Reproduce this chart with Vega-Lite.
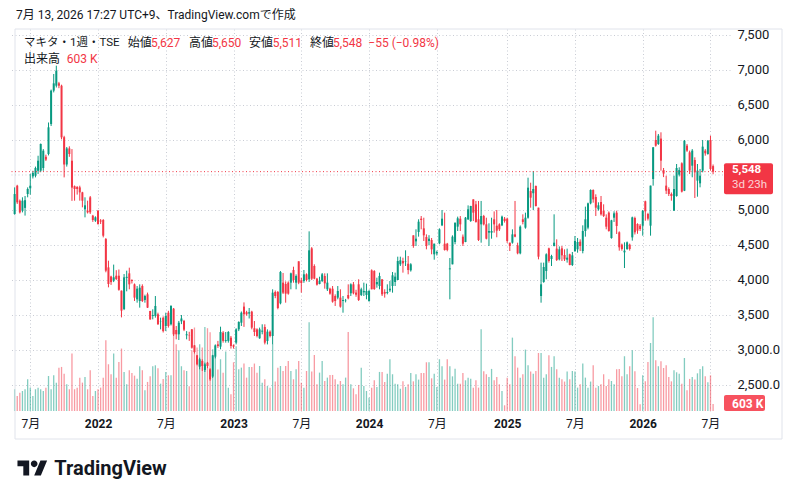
{
  "$schema": "https://vega.github.io/schema/vega-lite/v6.json",
  "description": "Makita weekly candles, TSE",
  "width": 720,
  "height": 382,
  "autosize": {"type": "none"},
  "padding": {"left": 10, "top": 29, "right": 68, "bottom": 88},
  "background": "#ffffff",
  "config": {
    "view": {"stroke": null},
    "font": "Roboto, 'Noto Sans CJK JP', sans-serif",
    "axis": {"labelOverlap": false, "labelBound": false},
    "axisY": {"labelOverlap": false},
    "axisRight": {"labelOverlap": false}
  },
  "datasets": {
    "last": [{"c": 5548, "v": 603, "ct": "5,548", "rem": "3d 23h", "vt": "603 K"}],
    "grid": [{"p": 5500}],
    "w": [
      {"d":"2021-05-24","o":4943,"h":5323,"l":4933,"c":5228,"v":1870},
      {"d":"2021-05-31","o":5347,"h":5360,"l":5086,"c":5109,"v":1290},
      {"d":"2021-06-07","o":5133,"h":5150,"l":4950,"c":4966,"v":1580},
      {"d":"2021-06-14","o":4990,"h":5181,"l":4966,"c":5133,"v":1720},
      {"d":"2021-06-21","o":5030,"h":5200,"l":4920,"c":5140,"v":1870},
      {"d":"2021-06-28","o":5228,"h":5323,"l":5181,"c":5300,"v":2730},
      {"d":"2021-07-05","o":5310,"h":5514,"l":5220,"c":5347,"v":2010},
      {"d":"2021-07-12","o":5480,"h":5560,"l":5450,"c":5530,"v":1290},
      {"d":"2021-07-19","o":5490,"h":5620,"l":5466,"c":5600,"v":1870},
      {"d":"2021-07-26","o":5560,"h":5775,"l":5514,"c":5704,"v":2010},
      {"d":"2021-08-02","o":5562,"h":5950,"l":5540,"c":5943,"v":1870},
      {"d":"2021-08-09","o":5600,"h":5870,"l":5560,"c":5847,"v":1720},
      {"d":"2021-08-16","o":5760,"h":5790,"l":5700,"c":5720,"v":2010},
      {"d":"2021-08-23","o":5800,"h":6250,"l":5780,"c":6181,"v":3010},
      {"d":"2021-08-30","o":6228,"h":6720,"l":6200,"c":6705,"v":1870},
      {"d":"2021-09-06","o":6705,"h":6943,"l":6680,"c":6809,"v":3070},
      {"d":"2021-09-13","o":6776,"h":7062,"l":6750,"c":6990,"v":2440},
      {"d":"2021-09-20","o":6810,"h":6830,"l":6740,"c":6776,"v":3730},
      {"d":"2021-09-27","o":6776,"h":6790,"l":6010,"c":6038,"v":3790},
      {"d":"2021-10-04","o":6040,"h":6060,"l":5466,"c":5650,"v":3210},
      {"d":"2021-10-11","o":5650,"h":5900,"l":5620,"c":5880,"v":2300},
      {"d":"2021-10-18","o":5880,"h":5910,"l":5760,"c":5800,"v":1870},
      {"d":"2021-10-25","o":5704,"h":5870,"l":5130,"c":5320,"v":4940},
      {"d":"2021-11-01","o":5340,"h":5350,"l":5133,"c":5300,"v":1870},
      {"d":"2021-11-08","o":5330,"h":5340,"l":5220,"c":5300,"v":2010},
      {"d":"2021-11-15","o":5323,"h":5347,"l":5133,"c":5252,"v":2870},
      {"d":"2021-11-22","o":5252,"h":5260,"l":5038,"c":5133,"v":2440},
      {"d":"2021-11-29","o":5010,"h":5181,"l":4895,"c":5067,"v":2930},
      {"d":"2021-12-06","o":4990,"h":5133,"l":4950,"c":4966,"v":1870},
      {"d":"2021-12-13","o":5181,"h":5200,"l":4943,"c":4966,"v":3500},
      {"d":"2021-12-20","o":4919,"h":4930,"l":4830,"c":4857,"v":1290},
      {"d":"2021-12-27","o":4847,"h":4910,"l":4830,"c":4895,"v":1720},
      {"d":"2022-01-03","o":4990,"h":5000,"l":4790,"c":4800,"v":1870},
      {"d":"2022-01-10","o":4850,"h":4870,"l":4800,"c":4835,"v":2010},
      {"d":"2022-01-17","o":4857,"h":4870,"l":4609,"c":4633,"v":2870},
      {"d":"2022-01-24","o":4585,"h":4600,"l":4110,"c":4133,"v":6080},
      {"d":"2022-01-31","o":4180,"h":4276,"l":3895,"c":3943,"v":4020},
      {"d":"2022-02-07","o":4050,"h":4061,"l":3930,"c":3970,"v":3160},
      {"d":"2022-02-14","o":3990,"h":4220,"l":3970,"c":4038,"v":4940},
      {"d":"2022-02-21","o":4061,"h":4140,"l":4000,"c":4014,"v":2870},
      {"d":"2022-02-28","o":4061,"h":4150,"l":3847,"c":3860,"v":4220},
      {"d":"2022-03-07","o":3847,"h":3850,"l":3466,"c":3562,"v":5370},
      {"d":"2022-03-14","o":3585,"h":4085,"l":3570,"c":4038,"v":3360},
      {"d":"2022-03-21","o":4030,"h":4133,"l":3838,"c":4045,"v":2300},
      {"d":"2022-03-28","o":4095,"h":4176,"l":3867,"c":3938,"v":3500},
      {"d":"2022-04-04","o":4000,"h":4010,"l":3950,"c":3985,"v":3270},
      {"d":"2022-04-11","o":3938,"h":3950,"l":3700,"c":3748,"v":3040},
      {"d":"2022-04-18","o":3724,"h":3914,"l":3676,"c":3876,"v":2780},
      {"d":"2022-04-25","o":3700,"h":3938,"l":3605,"c":3890,"v":3850},
      {"d":"2022-05-02","o":3914,"h":3938,"l":3685,"c":3700,"v":3500},
      {"d":"2022-05-09","o":3715,"h":3790,"l":3676,"c":3771,"v":1780},
      {"d":"2022-05-16","o":3795,"h":3820,"l":3600,"c":3605,"v":2500},
      {"d":"2022-05-23","o":3557,"h":3560,"l":3430,"c":3438,"v":2980},
      {"d":"2022-05-30","o":3486,"h":3581,"l":3438,"c":3500,"v":3850},
      {"d":"2022-06-06","o":3486,"h":3771,"l":3462,"c":3629,"v":3930},
      {"d":"2022-06-13","o":3510,"h":3533,"l":3360,"c":3367,"v":3670},
      {"d":"2022-06-20","o":3410,"h":3462,"l":3295,"c":3415,"v":2350},
      {"d":"2022-06-27","o":3460,"h":3480,"l":3250,"c":3270,"v":2760},
      {"d":"2022-07-04","o":3343,"h":3533,"l":3270,"c":3486,"v":3360},
      {"d":"2022-07-11","o":3533,"h":3560,"l":3320,"c":3343,"v":3070},
      {"d":"2022-07-18","o":3367,"h":3640,"l":3350,"c":3629,"v":3070},
      {"d":"2022-07-25","o":3590,"h":3600,"l":3200,"c":3224,"v":7230},
      {"d":"2022-08-01","o":3286,"h":3343,"l":3152,"c":3224,"v":5740},
      {"d":"2022-08-08","o":3224,"h":3415,"l":3143,"c":3390,"v":5220},
      {"d":"2022-08-15","o":3410,"h":3500,"l":3370,"c":3450,"v":3850},
      {"d":"2022-08-22","o":3415,"h":3430,"l":3270,"c":3290,"v":3500},
      {"d":"2022-08-29","o":3210,"h":3270,"l":3152,"c":3225,"v":3440},
      {"d":"2022-09-05","o":3215,"h":3260,"l":3130,"c":3210,"v":2120},
      {"d":"2022-09-12","o":3295,"h":3300,"l":3020,"c":3033,"v":5220},
      {"d":"2022-09-19","o":3066,"h":3070,"l":2950,"c":2971,"v":7180},
      {"d":"2022-09-26","o":2924,"h":2930,"l":2780,"c":2795,"v":5450},
      {"d":"2022-10-03","o":2762,"h":2890,"l":2724,"c":2867,"v":5740},
      {"d":"2022-10-10","o":2843,"h":2867,"l":2700,"c":2771,"v":5450},
      {"d":"2022-10-17","o":2714,"h":2819,"l":2686,"c":2795,"v":7230},
      {"d":"2022-10-24","o":2819,"h":2830,"l":2740,"c":2771,"v":7120},
      {"d":"2022-10-31","o":2724,"h":2740,"l":2560,"c":2581,"v":6770},
      {"d":"2022-11-07","o":2620,"h":2930,"l":2600,"c":2924,"v":5310},
      {"d":"2022-11-14","o":2905,"h":3080,"l":2880,"c":3066,"v":4710},
      {"d":"2022-11-21","o":3080,"h":3130,"l":3030,"c":3057,"v":3560},
      {"d":"2022-11-28","o":3048,"h":3333,"l":3010,"c":3257,"v":4450},
      {"d":"2022-12-05","o":3248,"h":3270,"l":3105,"c":3130,"v":3300},
      {"d":"2022-12-12","o":3130,"h":3257,"l":3105,"c":3143,"v":5110},
      {"d":"2022-12-19","o":3130,"h":3270,"l":3105,"c":3257,"v":2010},
      {"d":"2022-12-26","o":3176,"h":3200,"l":3020,"c":3057,"v":1440},
      {"d":"2023-01-02","o":3067,"h":3080,"l":3020,"c":3048,"v":4190},
      {"d":"2023-01-09","o":3105,"h":3310,"l":3080,"c":3295,"v":5570},
      {"d":"2023-01-16","o":3295,"h":3410,"l":3270,"c":3400,"v":3590},
      {"d":"2023-01-23","o":3390,"h":3550,"l":3343,"c":3533,"v":3730},
      {"d":"2023-01-30","o":3620,"h":3680,"l":3330,"c":3510,"v":4080},
      {"d":"2023-02-06","o":3540,"h":3560,"l":3490,"c":3510,"v":2870},
      {"d":"2023-02-13","o":3520,"h":3600,"l":3450,"c":3540,"v":3790},
      {"d":"2023-02-20","o":3548,"h":3560,"l":3295,"c":3319,"v":3790},
      {"d":"2023-02-27","o":3310,"h":3414,"l":3200,"c":3257,"v":4080},
      {"d":"2023-03-06","o":3295,"h":3310,"l":3180,"c":3200,"v":3300},
      {"d":"2023-03-13","o":3167,"h":3320,"l":3160,"c":3295,"v":3870},
      {"d":"2023-03-20","o":3262,"h":3367,"l":3224,"c":3276,"v":2440},
      {"d":"2023-03-27","o":3329,"h":3367,"l":3080,"c":3105,"v":2730},
      {"d":"2023-04-03","o":3129,"h":3295,"l":3080,"c":3262,"v":2150},
      {"d":"2023-04-10","o":3262,"h":3280,"l":3180,"c":3200,"v":2010},
      {"d":"2023-04-17","o":3200,"h":3867,"l":3080,"c":3819,"v":5740},
      {"d":"2023-04-24","o":3829,"h":3850,"l":3740,"c":3771,"v":2530},
      {"d":"2023-05-01","o":3829,"h":3843,"l":3581,"c":3600,"v":3730},
      {"d":"2023-05-08","o":3667,"h":4128,"l":3652,"c":4114,"v":3870},
      {"d":"2023-05-15","o":3962,"h":4100,"l":3800,"c":3819,"v":3440},
      {"d":"2023-05-22","o":3943,"h":3980,"l":3676,"c":3805,"v":3870},
      {"d":"2023-05-29","o":3962,"h":3980,"l":3790,"c":3805,"v":4310},
      {"d":"2023-06-05","o":3962,"h":4105,"l":3867,"c":4095,"v":3440},
      {"d":"2023-06-12","o":4143,"h":4190,"l":3962,"c":4000,"v":2730},
      {"d":"2023-06-19","o":3962,"h":4080,"l":3867,"c":4057,"v":3590},
      {"d":"2023-06-26","o":4267,"h":4267,"l":3940,"c":3962,"v":4310},
      {"d":"2023-07-03","o":3995,"h":4033,"l":3820,"c":3957,"v":2440},
      {"d":"2023-07-10","o":3986,"h":4143,"l":3960,"c":4081,"v":2010},
      {"d":"2023-07-17","o":4081,"h":4095,"l":3980,"c":4000,"v":3440},
      {"d":"2023-07-24","o":4010,"h":4695,"l":3972,"c":4424,"v":7630},
      {"d":"2023-07-31","o":4452,"h":4470,"l":4000,"c":4019,"v":3390},
      {"d":"2023-08-07","o":4200,"h":4224,"l":4010,"c":4019,"v":4820},
      {"d":"2023-08-14","o":4019,"h":4030,"l":3920,"c":3933,"v":2300},
      {"d":"2023-08-21","o":3943,"h":4047,"l":3938,"c":3990,"v":3300},
      {"d":"2023-08-28","o":3986,"h":4100,"l":3970,"c":4081,"v":4310},
      {"d":"2023-09-04","o":4057,"h":4095,"l":3876,"c":3952,"v":2580},
      {"d":"2023-09-11","o":3867,"h":4095,"l":3843,"c":3962,"v":2870},
      {"d":"2023-09-18","o":3876,"h":3890,"l":3790,"c":3805,"v":3100},
      {"d":"2023-09-25","o":3876,"h":3914,"l":3676,"c":3690,"v":3100},
      {"d":"2023-10-02","o":3771,"h":3795,"l":3629,"c":3700,"v":2730},
      {"d":"2023-10-09","o":3748,"h":3914,"l":3724,"c":3843,"v":2300},
      {"d":"2023-10-16","o":3748,"h":3867,"l":3605,"c":3619,"v":2580},
      {"d":"2023-10-23","o":3700,"h":3771,"l":3533,"c":3714,"v":2300},
      {"d":"2023-10-30","o":3700,"h":3730,"l":3680,"c":3705,"v":2870},
      {"d":"2023-11-06","o":3786,"h":3938,"l":3724,"c":3738,"v":6800},
      {"d":"2023-11-13","o":3810,"h":3952,"l":3771,"c":3938,"v":2300},
      {"d":"2023-11-20","o":3938,"h":3971,"l":3795,"c":3810,"v":1950},
      {"d":"2023-11-27","o":3820,"h":3860,"l":3760,"c":3790,"v":1440},
      {"d":"2023-12-04","o":3938,"h":4010,"l":3700,"c":3714,"v":2240},
      {"d":"2023-12-11","o":3786,"h":3890,"l":3771,"c":3867,"v":3730},
      {"d":"2023-12-18","o":3824,"h":3962,"l":3771,"c":3843,"v":2150},
      {"d":"2023-12-25","o":3786,"h":3948,"l":3724,"c":3843,"v":1720},
      {"d":"2024-01-01","o":3700,"h":3860,"l":3690,"c":3843,"v":1150},
      {"d":"2024-01-08","o":4138,"h":4152,"l":3867,"c":3867,"v":2010},
      {"d":"2024-01-15","o":4128,"h":4140,"l":3860,"c":3870,"v":2640},
      {"d":"2024-01-22","o":3938,"h":4033,"l":3890,"c":3971,"v":2070},
      {"d":"2024-01-29","o":3914,"h":4105,"l":3867,"c":4057,"v":3360},
      {"d":"2024-02-05","o":4010,"h":4010,"l":3771,"c":3795,"v":3360},
      {"d":"2024-02-12","o":3829,"h":3867,"l":3748,"c":3805,"v":2500},
      {"d":"2024-02-19","o":3815,"h":3938,"l":3795,"c":3829,"v":3210},
      {"d":"2024-02-26","o":3852,"h":3985,"l":3829,"c":3876,"v":4450},
      {"d":"2024-03-04","o":3914,"h":4114,"l":3819,"c":4067,"v":3160},
      {"d":"2024-03-11","o":3971,"h":4105,"l":3914,"c":4048,"v":2350},
      {"d":"2024-03-18","o":4000,"h":4333,"l":4000,"c":4271,"v":2300},
      {"d":"2024-03-25","o":4224,"h":4333,"l":4200,"c":4281,"v":1920},
      {"d":"2024-04-01","o":4271,"h":4319,"l":4105,"c":4238,"v":2550},
      {"d":"2024-04-08","o":4265,"h":4424,"l":4200,"c":4271,"v":2070},
      {"d":"2024-04-15","o":4233,"h":4343,"l":4081,"c":4143,"v":2300},
      {"d":"2024-04-22","o":4138,"h":4240,"l":4120,"c":4224,"v":3270},
      {"d":"2024-04-29","o":4638,"h":4638,"l":4460,"c":4486,"v":2550},
      {"d":"2024-05-06","o":4552,"h":4724,"l":4486,"c":4590,"v":3160},
      {"d":"2024-05-13","o":4686,"h":4867,"l":4619,"c":4833,"v":2700},
      {"d":"2024-05-20","o":4876,"h":4914,"l":4724,"c":4857,"v":3270},
      {"d":"2024-05-27","o":4738,"h":4890,"l":4557,"c":4638,"v":3270},
      {"d":"2024-06-03","o":4614,"h":4652,"l":4438,"c":4486,"v":4190},
      {"d":"2024-06-10","o":4557,"h":4640,"l":4500,"c":4590,"v":4190},
      {"d":"2024-06-17","o":4571,"h":4600,"l":4367,"c":4438,"v":2810},
      {"d":"2024-06-24","o":4367,"h":4519,"l":4290,"c":4519,"v":3210},
      {"d":"2024-07-01","o":4381,"h":4420,"l":4350,"c":4400,"v":2070},
      {"d":"2024-07-08","o":4524,"h":4738,"l":4510,"c":4724,"v":4450},
      {"d":"2024-07-15","o":4781,"h":5000,"l":4770,"c":4876,"v":3850},
      {"d":"2024-07-22","o":4519,"h":4962,"l":4420,"c":4429,"v":2700},
      {"d":"2024-07-29","o":4519,"h":4530,"l":4410,"c":4429,"v":4450},
      {"d":"2024-08-05","o":4152,"h":4314,"l":3724,"c":4167,"v":3850},
      {"d":"2024-08-12","o":4224,"h":4638,"l":4224,"c":4619,"v":2980},
      {"d":"2024-08-19","o":4543,"h":4819,"l":4510,"c":4819,"v":3640},
      {"d":"2024-08-26","o":4762,"h":4905,"l":4700,"c":4881,"v":2350},
      {"d":"2024-09-02","o":4876,"h":4914,"l":4700,"c":4795,"v":2350},
      {"d":"2024-09-09","o":4619,"h":4650,"l":4486,"c":4519,"v":3270},
      {"d":"2024-09-16","o":4543,"h":4900,"l":4540,"c":4890,"v":2640},
      {"d":"2024-09-23","o":4867,"h":5066,"l":4857,"c":5010,"v":2870},
      {"d":"2024-09-30","o":4843,"h":5060,"l":4830,"c":5057,"v":2780},
      {"d":"2024-10-07","o":5152,"h":5152,"l":4843,"c":4962,"v":2010},
      {"d":"2024-10-14","o":5081,"h":5129,"l":4819,"c":4829,"v":2640},
      {"d":"2024-10-21","o":4867,"h":5129,"l":4557,"c":4571,"v":2010},
      {"d":"2024-10-28","o":4795,"h":5129,"l":4533,"c":4914,"v":7030},
      {"d":"2024-11-04","o":4914,"h":4930,"l":4780,"c":4795,"v":3420},
      {"d":"2024-11-11","o":4795,"h":4890,"l":4580,"c":4590,"v":3160},
      {"d":"2024-11-18","o":4676,"h":4810,"l":4486,"c":4700,"v":2930},
      {"d":"2024-11-25","o":4676,"h":4890,"l":4590,"c":4700,"v":3620},
      {"d":"2024-12-02","o":4867,"h":4980,"l":4676,"c":4795,"v":2640},
      {"d":"2024-12-09","o":4776,"h":5000,"l":4610,"c":4705,"v":2930},
      {"d":"2024-12-16","o":4795,"h":4810,"l":4700,"c":4724,"v":2300},
      {"d":"2024-12-23","o":4781,"h":4920,"l":4770,"c":4905,"v":1720},
      {"d":"2024-12-30","o":4876,"h":4900,"l":4820,"c":4843,"v":490},
      {"d":"2025-01-06","o":4876,"h":4890,"l":4530,"c":4557,"v":2870},
      {"d":"2025-01-13","o":4533,"h":4533,"l":4414,"c":4486,"v":2300},
      {"d":"2025-01-20","o":4533,"h":4724,"l":4519,"c":4652,"v":6310},
      {"d":"2025-01-27","o":4652,"h":5129,"l":4610,"c":4619,"v":4710},
      {"d":"2025-02-03","o":4495,"h":4533,"l":4367,"c":4381,"v":3730},
      {"d":"2025-02-10","o":4381,"h":4780,"l":4367,"c":4762,"v":2870},
      {"d":"2025-02-17","o":4867,"h":4938,"l":4795,"c":4829,"v":3160},
      {"d":"2025-02-24","o":4748,"h":4962,"l":4733,"c":4890,"v":5280},
      {"d":"2025-03-03","o":4890,"h":5462,"l":4876,"c":5319,"v":3930},
      {"d":"2025-03-10","o":5271,"h":5390,"l":5033,"c":5176,"v":3390},
      {"d":"2025-03-17","o":5240,"h":5557,"l":5000,"c":5300,"v":3210},
      {"d":"2025-03-24","o":5343,"h":5350,"l":5050,"c":5057,"v":3440},
      {"d":"2025-03-31","o":5033,"h":5033,"l":4295,"c":4333,"v":4990},
      {"d":"2025-04-07","o":3771,"h":4248,"l":3676,"c":3938,"v":4990},
      {"d":"2025-04-14","o":3971,"h":4248,"l":3960,"c":4186,"v":2870},
      {"d":"2025-04-21","o":4128,"h":4381,"l":4010,"c":4367,"v":3160},
      {"d":"2025-04-28","o":4452,"h":4462,"l":4248,"c":4271,"v":4790},
      {"d":"2025-05-05","o":4300,"h":4360,"l":4200,"c":4343,"v":3790},
      {"d":"2025-05-12","o":4486,"h":4938,"l":4480,"c":4533,"v":4710},
      {"d":"2025-05-19","o":4448,"h":4581,"l":4271,"c":4286,"v":3590},
      {"d":"2025-05-26","o":4295,"h":4480,"l":4280,"c":4438,"v":2870},
      {"d":"2025-06-02","o":4452,"h":4486,"l":4271,"c":4352,"v":2730},
      {"d":"2025-06-09","o":4357,"h":4438,"l":4271,"c":4295,"v":2530},
      {"d":"2025-06-16","o":4290,"h":4448,"l":4248,"c":4319,"v":3390},
      {"d":"2025-06-23","o":4367,"h":4376,"l":4210,"c":4214,"v":2730},
      {"d":"2025-06-30","o":4214,"h":4400,"l":4200,"c":4352,"v":3440},
      {"d":"2025-07-07","o":4414,"h":4629,"l":4400,"c":4557,"v":3390},
      {"d":"2025-07-14","o":4438,"h":4600,"l":4390,"c":4543,"v":2010},
      {"d":"2025-07-21","o":4548,"h":4581,"l":4414,"c":4486,"v":2300},
      {"d":"2025-07-28","o":4414,"h":4781,"l":4381,"c":4700,"v":4080},
      {"d":"2025-08-04","o":4700,"h":5048,"l":4619,"c":4867,"v":2870},
      {"d":"2025-08-11","o":4748,"h":5105,"l":4724,"c":5095,"v":2010},
      {"d":"2025-08-18","o":5095,"h":5295,"l":5081,"c":5286,"v":2530},
      {"d":"2025-08-25","o":5286,"h":5295,"l":5105,"c":5152,"v":3930},
      {"d":"2025-09-01","o":5186,"h":5224,"l":4914,"c":5033,"v":2010},
      {"d":"2025-09-08","o":5010,"h":5110,"l":4990,"c":5067,"v":2150},
      {"d":"2025-09-15","o":5114,"h":5200,"l":4920,"c":4938,"v":2300},
      {"d":"2025-09-22","o":4990,"h":5081,"l":4900,"c":4914,"v":3160},
      {"d":"2025-09-29","o":4890,"h":4938,"l":4724,"c":4762,"v":2150},
      {"d":"2025-10-06","o":4962,"h":4980,"l":4690,"c":4700,"v":2730},
      {"d":"2025-10-13","o":4600,"h":4860,"l":4590,"c":4852,"v":2580},
      {"d":"2025-10-20","o":4890,"h":4981,"l":4829,"c":4952,"v":2300},
      {"d":"2025-10-27","o":4962,"h":4990,"l":4657,"c":4771,"v":3590},
      {"d":"2025-11-03","o":4681,"h":4695,"l":4419,"c":4467,"v":3620},
      {"d":"2025-11-10","o":4505,"h":4520,"l":4419,"c":4443,"v":2980},
      {"d":"2025-11-17","o":4395,"h":4538,"l":4171,"c":4419,"v":4710},
      {"d":"2025-11-24","o":4443,"h":4550,"l":4430,"c":4538,"v":3160},
      {"d":"2025-12-01","o":4505,"h":4520,"l":4420,"c":4443,"v":3850},
      {"d":"2025-12-08","o":4609,"h":4905,"l":4562,"c":4895,"v":5220},
      {"d":"2025-12-15","o":4886,"h":4905,"l":4650,"c":4681,"v":3420},
      {"d":"2025-12-22","o":4800,"h":4810,"l":4660,"c":4705,"v":1980},
      {"d":"2025-12-29","o":4776,"h":4800,"l":4700,"c":4728,"v":570},
      {"d":"2026-01-05","o":4776,"h":5000,"l":4633,"c":4990,"v":3070},
      {"d":"2026-01-12","o":5124,"h":5133,"l":4847,"c":4981,"v":2550},
      {"d":"2026-01-19","o":4943,"h":4960,"l":4850,"c":4876,"v":4220},
      {"d":"2026-01-26","o":4776,"h":5348,"l":4633,"c":5348,"v":5850},
      {"d":"2026-02-02","o":5443,"h":5900,"l":5348,"c":5895,"v":8060},
      {"d":"2026-02-09","o":6000,"h":6133,"l":5905,"c":5919,"v":4360},
      {"d":"2026-02-16","o":5943,"h":6086,"l":5930,"c":6062,"v":3850},
      {"d":"2026-02-23","o":6020,"h":6110,"l":5562,"c":5705,"v":4280},
      {"d":"2026-03-02","o":5570,"h":5600,"l":5470,"c":5520,"v":3700},
      {"d":"2026-03-09","o":5348,"h":5490,"l":5229,"c":5276,"v":3930},
      {"d":"2026-03-16","o":5300,"h":5324,"l":5200,"c":5229,"v":2930},
      {"d":"2026-03-23","o":5229,"h":5250,"l":5133,"c":5200,"v":2550},
      {"d":"2026-03-30","o":4990,"h":5490,"l":4990,"c":5300,"v":3500},
      {"d":"2026-04-06","o":5200,"h":5657,"l":5190,"c":5600,"v":3330},
      {"d":"2026-04-13","o":5505,"h":5610,"l":5480,"c":5570,"v":3210},
      {"d":"2026-04-20","o":5667,"h":5681,"l":5250,"c":5262,"v":2350},
      {"d":"2026-04-27","o":5276,"h":6000,"l":5270,"c":5990,"v":4560},
      {"d":"2026-05-04","o":5919,"h":5943,"l":5830,"c":5848,"v":1780},
      {"d":"2026-05-11","o":5824,"h":5848,"l":5514,"c":5562,"v":2760},
      {"d":"2026-05-18","o":5633,"h":5870,"l":5467,"c":5848,"v":2930},
      {"d":"2026-05-25","o":5714,"h":5752,"l":5171,"c":5538,"v":2700},
      {"d":"2026-06-01","o":5419,"h":5657,"l":5190,"c":5562,"v":3240},
      {"d":"2026-06-08","o":5381,"h":5586,"l":5324,"c":5490,"v":3620},
      {"d":"2026-06-15","o":5562,"h":6000,"l":5538,"c":5905,"v":3850},
      {"d":"2026-06-22","o":5848,"h":5870,"l":5776,"c":5810,"v":2980},
      {"d":"2026-06-29","o":5800,"h":6000,"l":5790,"c":5990,"v":2470},
      {"d":"2026-07-06","o":6000,"h":6062,"l":5562,"c":5586,"v":3070},
      {"d":"2026-07-13","o":5627,"h":5650,"l":5511,"c":5548,"v":603}
    ]
  },
  "layer": [
    {
      "layer": [
        {
          "data": {"name": "w"},
          "mark": {"type": "bar", "width": 1.3, "opacity": 0.5, "clip": true},
          "encoding": {
            "x": {"field": "d", "type": "temporal", "title": null},
            "y": {"field": "v", "type": "quantitative", "scale": {"domain": [0, 32850], "nice": false}, "axis": null},
            "color": {"condition": {"test": "datum.c < datum.o", "value": "#F23645"}, "value": "#089981"}
          }
        },
        {
          "data": {"name": "last"},
          "mark": {"type": "rect", "color": "#F7525F", "cornerRadius": 2, "xOffset": -1, "x2Offset": 40, "yOffset": -9, "y2Offset": 7},
          "encoding": {
            "x": {"datum": {"year": 2026, "month": 8, "date": 14, "utc": true}, "title": null},
            "x2": {"datum": {"year": 2026, "month": 8, "date": 14, "utc": true}},
            "y": {"field": "v", "type": "quantitative"},
            "y2": {"field": "v"}
          }
        },
        {
          "data": {"name": "last"},
          "mark": {"type": "text", "align": "left", "baseline": "middle", "dx": 7, "fontSize": 12, "fontWeight": "bold", "color": "#ffffff"},
          "encoding": {
            "x": {"datum": {"year": 2026, "month": 8, "date": 14, "utc": true}, "title": null},
            "y": {"field": "v", "type": "quantitative"},
            "text": {"field": "vt"}
          }
        }
      ]
    },
    {
      "layer": [
        {
          "data": {"values": [{"t": "frame"}]},
          "mark": {"type": "rect", "filled": false, "color": "#e0e3eb", "strokeWidth": 1, "x2Offset": 57, "y2Offset": 28},
          "encoding": {
            "x": {"datum": {"year": 2021, "month": 5, "date": 25, "utc": true}, "title": null},
            "x2": {"datum": {"year": 2026, "month": 8, "date": 14, "utc": true}},
            "y": {"datum": 7585.7, "title": null},
            "y2": {"datum": 2128.5}
          }
        },
        {
          "data": {"name": "grid"},
          "mark": {"type": "rule", "color": "#c9ccd4", "strokeWidth": 1, "strokeDash": [1, 2.5]},
          "encoding": {"y": {"field": "p", "type": "quantitative", "title": null}}
        },
        {
          "data": {"name": "w"},
          "mark": {"type": "rule", "strokeWidth": 1, "clip": true},
          "encoding": {
            "x": {"field": "d", "type": "temporal", "title": null},
            "y": {"field": "l", "type": "quantitative"},
            "y2": {"field": "h"},
            "color": {"condition": {"test": "datum.c < datum.o", "value": "#F23645"}, "value": "#089981"}
          }
        },
        {
          "data": {"name": "w"},
          "mark": {"type": "bar", "width": 2, "clip": true},
          "encoding": {
            "x": {
              "field": "d",
              "type": "temporal",
              "title": null,
              "scale": {
                "type": "utc",
                "domain": [{"year": 2021, "month": 5, "date": 25, "utc": true}, {"year": 2026, "month": 8, "date": 14, "utc": true}]
              },
              "axis": {
                "values": [
                  {"year": 2021, "month": 7, "date": 5, "utc": true},
                  {"year": 2022, "month": 1, "date": 3, "utc": true},
                  {"year": 2022, "month": 7, "date": 4, "utc": true},
                  {"year": 2023, "month": 1, "date": 2, "utc": true},
                  {"year": 2023, "month": 7, "date": 3, "utc": true},
                  {"year": 2024, "month": 1, "date": 1, "utc": true},
                  {"year": 2024, "month": 7, "date": 1, "utc": true},
                  {"year": 2025, "month": 1, "date": 6, "utc": true},
                  {"year": 2025, "month": 7, "date": 7, "utc": true},
                  {"year": 2026, "month": 1, "date": 5, "utc": true},
                  {"year": 2026, "month": 7, "date": 6, "utc": true}
                ],
                "labelExpr": "utcmonth(datum.value) == 0 ? utcFormat(datum.value, '%Y') : (utcmonth(datum.value) + 1) + '月'",
                "labelFontWeight": {"condition": {"test": "utcmonth(datum.value) == 0", "value": "bold"}, "value": "normal"},
                "labelFontSize": 12,
                "labelColor": "#131722",
                "labelPadding": 7,
                "labelOverlap": false,
                "labelFlush": false,
                "domain": false,
                "ticks": false,
                "grid": true,
                "gridColor": "#c9ccd4",
                "gridDash": [1, 2.5]
              }
            },
            "y": {
              "field": "o",
              "type": "quantitative",
              "title": null,
              "scale": {"domain": [2128.5, 7585.7], "nice": false, "zero": false},
              "axis": {
                "orient": "right",
                "values": [2500, 3000, 3500, 4000, 4500, 5000, 6000, 6500, 7000, 7500],
                "labelExpr": "datum.value <= 3000 ? format(datum.value, ',.1f') : format(datum.value, ',')",
                "labelFontSize": 13,
                "labelColor": "#131722",
                "labelAlign": "left",
                "labelBaseline": "middle",
                "labelPadding": 7,
                "labelOverlap": false,
                "labelFlush": false,
                "labelSeparation": 0,
                "domain": false,
                "ticks": false,
                "grid": true,
                "gridColor": "#c9ccd4",
                "gridDash": [1, 2.5]
              }
            },
            "y2": {"field": "c"},
            "color": {"condition": {"test": "datum.c < datum.o", "value": "#F23645"}, "value": "#089981"}
          }
        },
        {
          "data": {"name": "last"},
          "mark": {"type": "rule", "color": "#F23645", "strokeWidth": 1, "strokeDash": [1, 2.5]},
          "encoding": {"y": {"field": "c", "type": "quantitative", "title": null}}
        },
        {
          "data": {"name": "last"},
          "mark": {"type": "rect", "color": "#F23645", "cornerRadius": 2, "xOffset": -1, "x2Offset": 48, "yOffset": -8.5, "y2Offset": 22.5},
          "encoding": {
            "x": {"datum": {"year": 2026, "month": 8, "date": 14, "utc": true}, "title": null},
            "x2": {"datum": {"year": 2026, "month": 8, "date": 14, "utc": true}},
            "y": {"field": "c", "type": "quantitative", "title": null},
            "y2": {"field": "c"}
          }
        },
        {
          "data": {"name": "last"},
          "mark": {"type": "text", "align": "left", "baseline": "middle", "dx": 7, "dy": -2, "fontSize": 11.5, "fontWeight": "bold", "color": "#ffffff"},
          "encoding": {
            "x": {"datum": {"year": 2026, "month": 8, "date": 14, "utc": true}, "title": null},
            "y": {"field": "c", "type": "quantitative", "title": null},
            "text": {"field": "ct"}
          }
        },
        {
          "data": {"name": "last"},
          "mark": {"type": "text", "align": "left", "baseline": "middle", "dx": 7, "dy": 13.5, "fontSize": 11.5, "color": "#ffffff", "opacity": 0.78},
          "encoding": {
            "x": {"datum": {"year": 2026, "month": 8, "date": 14, "utc": true}, "title": null},
            "y": {"field": "c", "type": "quantitative", "title": null},
            "text": {"field": "rem"}
          }
        },
        {
          "data": {"values": [{"t": "7月 13, 2026 17:27 UTC+9、TradingView.comで作成"}]},
          "mark": {"type": "text", "align": "left", "baseline": "middle", "dx": 1, "fontSize": 12, "color": "#131722"},
          "encoding": {"x": {"datum": {"year": 2021, "month": 5, "date": 25, "utc": true}, "title": null}, "y": {"datum": 7785.7, "title": null}, "text": {"field": "t"}}
        },
        {
          "data": {"values": [{"t": "マキタ・1週・TSE"}]},
          "mark": {"type": "text", "align": "left", "baseline": "middle", "dx": 9, "fontSize": 11.5, "color": "#131722"},
          "encoding": {"x": {"datum": {"year": 2021, "month": 5, "date": 25, "utc": true}, "title": null}, "y": {"datum": 7392.8, "title": null}, "text": {"field": "t"}}
        },
        {
          "data": {"values": [{"t": "始値"}]},
          "mark": {"type": "text", "align": "left", "baseline": "middle", "dx": 112.7, "fontSize": 12, "color": "#131722"},
          "encoding": {"x": {"datum": {"year": 2021, "month": 5, "date": 25, "utc": true}, "title": null}, "y": {"datum": 7392.8, "title": null}, "text": {"field": "t"}}
        },
        {
          "data": {"values": [{"t": "5,627"}]},
          "mark": {"type": "text", "align": "left", "baseline": "middle", "dx": 136, "fontSize": 12, "color": "#F23645"},
          "encoding": {"x": {"datum": {"year": 2021, "month": 5, "date": 25, "utc": true}, "title": null}, "y": {"datum": 7392.8, "title": null}, "text": {"field": "t"}}
        },
        {
          "data": {"values": [{"t": "高値"}]},
          "mark": {"type": "text", "align": "left", "baseline": "middle", "dx": 174, "fontSize": 12, "color": "#131722"},
          "encoding": {"x": {"datum": {"year": 2021, "month": 5, "date": 25, "utc": true}, "title": null}, "y": {"datum": 7392.8, "title": null}, "text": {"field": "t"}}
        },
        {
          "data": {"values": [{"t": "5,650"}]},
          "mark": {"type": "text", "align": "left", "baseline": "middle", "dx": 197, "fontSize": 12, "color": "#F23645"},
          "encoding": {"x": {"datum": {"year": 2021, "month": 5, "date": 25, "utc": true}, "title": null}, "y": {"datum": 7392.8, "title": null}, "text": {"field": "t"}}
        },
        {
          "data": {"values": [{"t": "安値"}]},
          "mark": {"type": "text", "align": "left", "baseline": "middle", "dx": 234, "fontSize": 12, "color": "#131722"},
          "encoding": {"x": {"datum": {"year": 2021, "month": 5, "date": 25, "utc": true}, "title": null}, "y": {"datum": 7392.8, "title": null}, "text": {"field": "t"}}
        },
        {
          "data": {"values": [{"t": "5,511"}]},
          "mark": {"type": "text", "align": "left", "baseline": "middle", "dx": 257.7, "fontSize": 12, "color": "#F23645"},
          "encoding": {"x": {"datum": {"year": 2021, "month": 5, "date": 25, "utc": true}, "title": null}, "y": {"datum": 7392.8, "title": null}, "text": {"field": "t"}}
        },
        {
          "data": {"values": [{"t": "終値"}]},
          "mark": {"type": "text", "align": "left", "baseline": "middle", "dx": 295, "fontSize": 12, "color": "#131722"},
          "encoding": {"x": {"datum": {"year": 2021, "month": 5, "date": 25, "utc": true}, "title": null}, "y": {"datum": 7392.8, "title": null}, "text": {"field": "t"}}
        },
        {
          "data": {"values": [{"t": "5,548"}]},
          "mark": {"type": "text", "align": "left", "baseline": "middle", "dx": 318, "fontSize": 12, "color": "#F23645"},
          "encoding": {"x": {"datum": {"year": 2021, "month": 5, "date": 25, "utc": true}, "title": null}, "y": {"datum": 7392.8, "title": null}, "text": {"field": "t"}}
        },
        {
          "data": {"values": [{"t": "−55 (−0.98%)"}]},
          "mark": {"type": "text", "align": "left", "baseline": "middle", "dx": 353.3, "fontSize": 12, "color": "#F23645"},
          "encoding": {"x": {"datum": {"year": 2021, "month": 5, "date": 25, "utc": true}, "title": null}, "y": {"datum": 7392.8, "title": null}, "text": {"field": "t"}}
        },
        {
          "data": {"values": [{"t": "出来高"}]},
          "mark": {"type": "text", "align": "left", "baseline": "middle", "dx": 9, "fontSize": 12, "color": "#131722"},
          "encoding": {"x": {"datum": {"year": 2021, "month": 5, "date": 25, "utc": true}, "title": null}, "y": {"datum": 7150, "title": null}, "text": {"field": "t"}}
        },
        {
          "data": {"values": [{"t": "603 K"}]},
          "mark": {"type": "text", "align": "left", "baseline": "middle", "dx": 51.7, "fontSize": 12, "color": "#F23645"},
          "encoding": {"x": {"datum": {"year": 2021, "month": 5, "date": 25, "utc": true}, "title": null}, "y": {"datum": 7150, "title": null}, "text": {"field": "t"}}
        },
        {
          "data": {"values": [{"t": "logo"}]},
          "mark": {
            "type": "point",
            "shape": "M-0.211,0.507L-0.606,0.507L-0.606,-0.113L-1,-0.113L-1,-0.507L-0.211,-0.507Z M0.577,0.507L0.127,0.507L0.549,-0.507L1,-0.507Z M-0.098,-0.282A0.225,0.225 0 1,0 0.352,-0.282A0.225,0.225 0 1,0 -0.098,-0.282Z",
            "filled": true,
            "opacity": 1,
            "color": "#131722",
            "size": 880,
            "strokeWidth": 0,
            "xOffset": 17.3
          },
          "encoding": {"x": {"datum": {"year": 2021, "month": 5, "date": 25, "utc": true}, "title": null}, "y": {"datum": 1314, "title": null}}
        },
        {
          "data": {"values": [{"t": "TradingView"}]},
          "mark": {"type": "text", "align": "left", "baseline": "middle", "dx": 39.3, "dy": 1, "fontSize": 20, "fontWeight": "bold", "color": "#131722"},
          "encoding": {"x": {"datum": {"year": 2021, "month": 5, "date": 25, "utc": true}, "title": null}, "y": {"datum": 1314, "title": null}, "text": {"field": "t"}}
        }
      ]
    }
  ],
  "resolve": {"scale": {"y": "independent"}}
}
